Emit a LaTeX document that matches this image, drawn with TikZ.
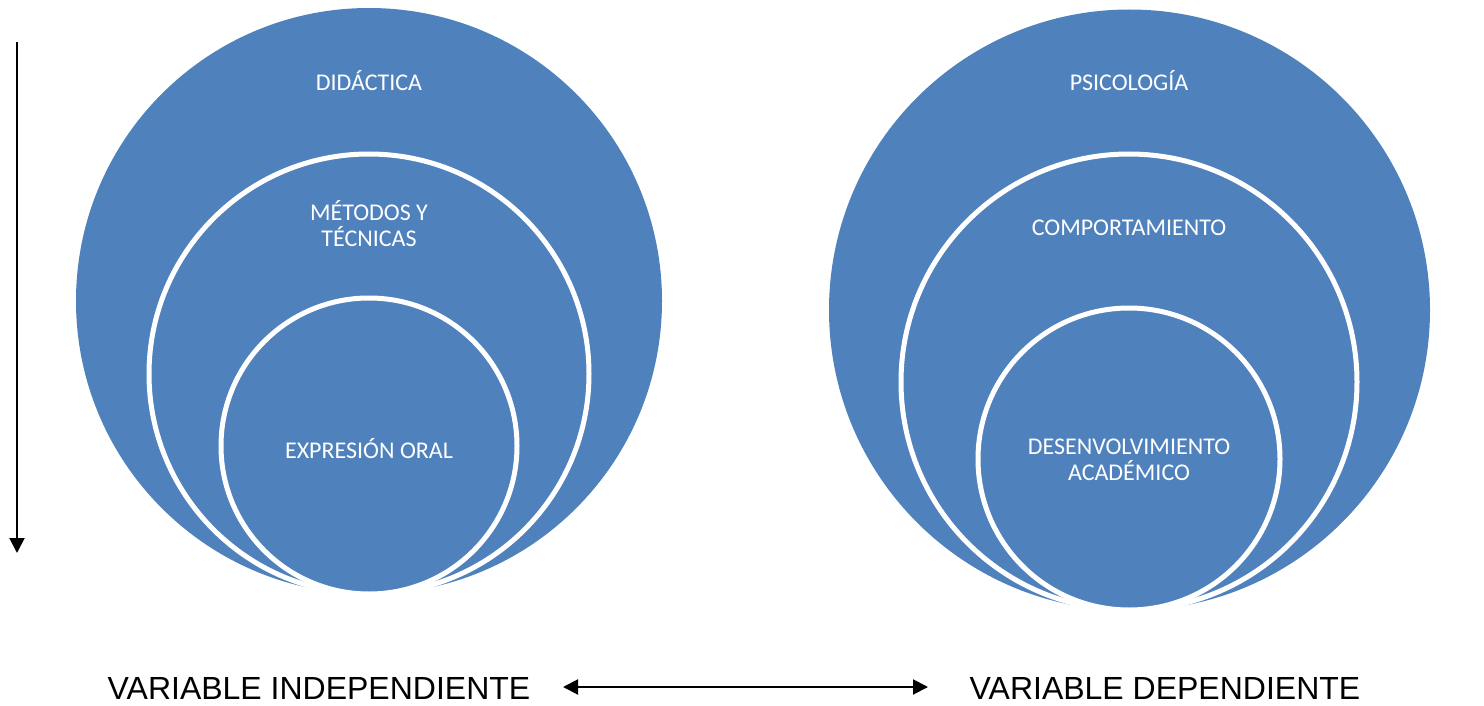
\documentclass[tikz,border=0pt]{standalone}
\usepackage{fontspec}
\setmainfont{Carlito}
\newfontfamily\arialf{Liberation Sans}
\usetikzlibrary{arrows.meta}
\definecolor{obl}{HTML}{4F81BD}
\begin{document}
\begin{tikzpicture}[x=1pt,y=-1pt,
  ring/.style={circle, fill=obl, draw=white, line width=5pt, inner sep=0pt, outer sep=0pt},
  outerdisc/.style={circle, fill=obl, inner sep=0pt, outer sep=0pt},
  lbl/.style={text=white, font=\fontsize{24}{26}\selectfont, align=center, inner sep=0pt},
  var/.style={font=\arialf\fontsize{32}{36}\selectfont, inner sep=0pt},
  arr/.style={line width=2pt, -{Triangle[length=15pt,width=15pt]}},
  darr/.style={line width=2pt, {Triangle[length=15pt,width=15pt]}-{Triangle[length=15pt,width=15pt]}}]
\useasboundingbox (0,0) rectangle (1484,706);
% left set
\node[outerdisc, minimum size=586pt] (L1) at (369,301) {};
\node[ring, minimum size=440pt] (L2) at (369,374) {};
\node[ring, minimum size=296pt] (L3) at (369,446) {};
\node[lbl] (t1) at (369,81) {DIDÁCTICA};
\node[lbl] (t2) at (369,224) {MÉTODOS Y\\TÉCNICAS};
\node[lbl] (t3) at (369,449) {EXPRESIÓN ORAL};
% right set
\node[outerdisc, minimum size=601pt] (R1) at (1129.5,310) {};
\node[ring, minimum size=456pt] (R2) at (1129,382) {};
\node[ring, minimum size=302pt] (R3) at (1129,459) {};
\node[lbl] (s1) at (1129,81) {PSICOLOGÍA};
\node[lbl] (s2) at (1129,228) {COMPORTAMIENTO};
\node[lbl] (s3) at (1129,460) {DESENVOLVIMIENTO\\ACADÉMICO};
% variables
\node[var] (vi) at (319,688) {VARIABLE INDEPENDIENTE};
\node[var] (vd) at (1165,688) {VARIABLE DEPENDIENTE};
\coordinate (a1) at (17,42);
\coordinate (a2) at (17,553);
\coordinate (b1) at (563,687);
\coordinate (b2) at (928,687);
\draw[arr] (a1) -- (a2);
\draw[darr] (b1) -- (b2);
\end{tikzpicture}
\end{document}
